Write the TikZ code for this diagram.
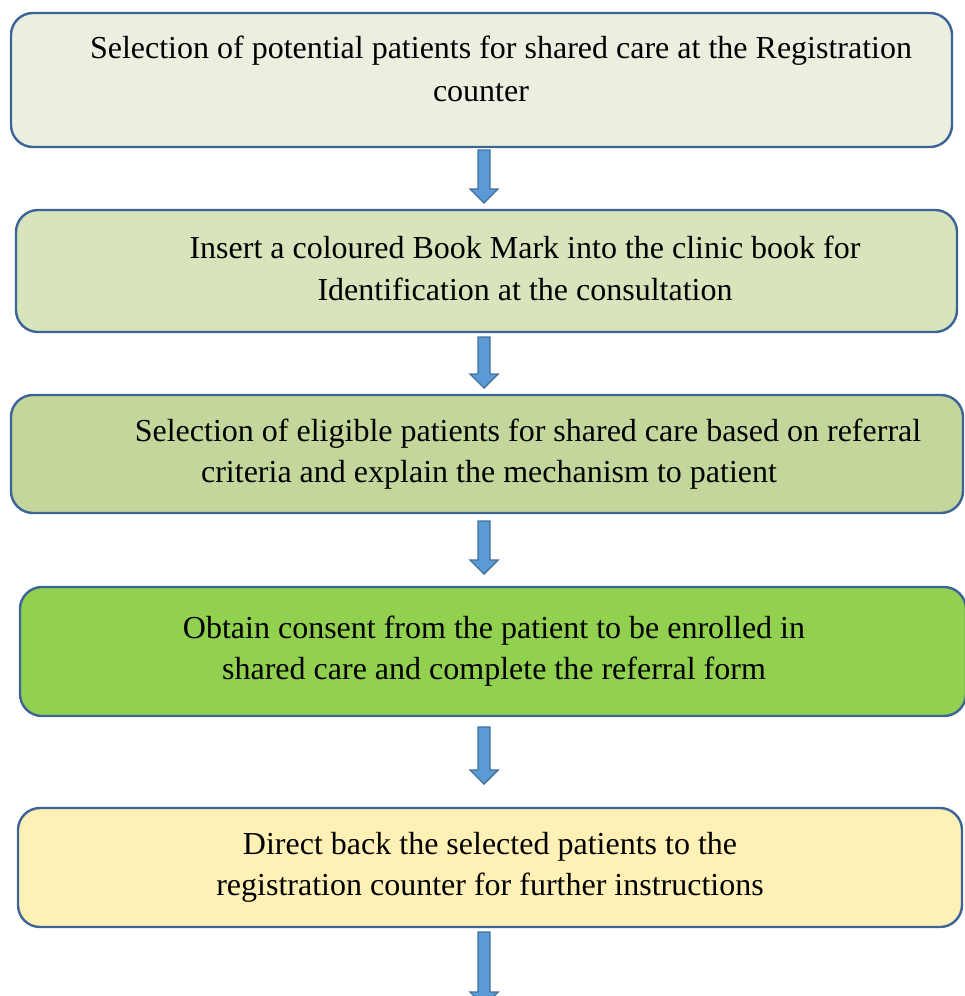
\documentclass[tikz,border=0pt]{standalone}
\usepackage{fontspec}
\setmainfont{Liberation Serif}
\usetikzlibrary{calc}
\definecolor{edge}{HTML}{3C6496}
\definecolor{fillA}{HTML}{EBEFDF}
\definecolor{fillB}{HTML}{D8E4BC}
\definecolor{fillC}{HTML}{C3D69B}
\definecolor{fillD}{HTML}{92D050}
\definecolor{fillE}{HTML}{FFF1B5}
\definecolor{arrowfill}{HTML}{5B9BD5}
\definecolor{arrowedge}{HTML}{41719C}
\tikzset{
  stepbox/.style={draw=edge, line width=2.4pt, rounded corners=22pt},
  steptext/.style={inner sep=0pt, yshift=-2pt, font=\fontsize{32}{36}\selectfont},
  blockarrow/.style={draw=arrowedge, fill=arrowfill, line width=1.4pt, line join=miter},
}
% Block arrow between two named coordinates (top and tip)
\newcommand\flowarrow[2]{%
  \draw[blockarrow] let \p1=(#1), \p2=(#2) in
    (\x1-6pt,\y1) -- (\x1+6pt,\y1) -- (\x1+6pt,\y2+14pt) -- (\x1+14pt,\y2+14pt)
    -- (\x2,\y2) -- (\x1-14pt,\y2+14pt) -- (\x1-6pt,\y2+14pt) -- cycle;}
\begin{document}
\begin{tikzpicture}[x=1pt,y=-1pt]
\useasboundingbox (0,0) rectangle (964,996);

% Boxes
\path[stepbox, fill=fillA] (11,13) rectangle (952,147);
\path[stepbox, fill=fillB] (16,210) rectangle (957,332);
\path[stepbox, fill=fillC] (11,395) rectangle (963,513);
\path[stepbox, fill=fillD] (20,587) rectangle (966,716);
\path[stepbox, fill=fillE] (18,808) rectangle (962,927);

% Texts
\node[steptext] (t11) at (501,49) {Selection of potential patients for shared care at the Registration};
\node[steptext] (t12) at (481,91) {counter};
\node[steptext] (t21) at (525,245) {Insert a coloured Book Mark into the clinic book for};
\node[steptext] (t22) at (525,287) {Identification at the consultation};
\node[steptext] (t31) at (528,432) {Selection of eligible patients for shared care based on referral};
\node[steptext] (t32) at (489,473) {criteria and explain the mechanism to patient};
\node[steptext] (t41) at (494,629) {Obtain consent from the patient to be enrolled in};
\node[steptext] (t42) at (494,670) {shared care and complete the referral form};
\node[steptext] (t51) at (490,845) {Direct back the selected patients to the};
\node[steptext] (t52) at (490,886) {registration counter for further instructions};

% Arrow end points
\coordinate (a1s) at (484,150); \coordinate (a1e) at (484,203);
\coordinate (a2s) at (484,337); \coordinate (a2e) at (484,388);
\coordinate (a3s) at (484,521); \coordinate (a3e) at (484,574);
\coordinate (a4s) at (484,727); \coordinate (a4e) at (484,784);
\coordinate (a5s) at (484,932); \coordinate (a5e) at (484,1006);

\flowarrow{a1s}{a1e}
\flowarrow{a2s}{a2e}
\flowarrow{a3s}{a3e}
\flowarrow{a4s}{a4e}
\flowarrow{a5s}{a5e}
\end{tikzpicture}
\end{document}
